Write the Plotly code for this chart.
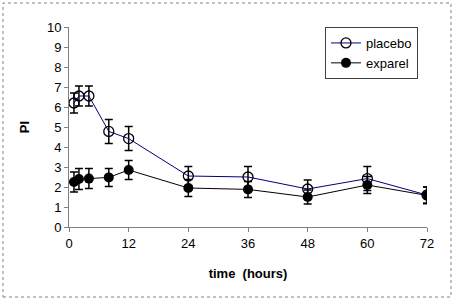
import plotly.graph_objects as go

time_h = [1, 2, 4, 8, 12, 24, 36, 48, 60, 72]
placebo = [6.2, 6.55, 6.55, 4.78, 4.42, 2.55, 2.5, 1.9, 2.42, 1.6]
placebo_err = [0.5, 0.5, 0.5, 0.6, 0.6, 0.47, 0.52, 0.45, 0.6, 0.4]
exparel = [2.25, 2.4, 2.42, 2.48, 2.85, 1.95, 1.88, 1.5, 2.1, 1.58]
exparel_err = [0.5, 0.52, 0.5, 0.45, 0.48, 0.42, 0.4, 0.35, 0.42, 0.42]
x_ticks = [0, 12, 24, 36, 48, 60, 72]
y_ticks = list(range(0, 11))

fig = go.Figure()
fig.add_trace(go.Scatter(
    x=time_h, y=placebo, name="placebo", mode="lines+markers",
    line=dict(color="#000080", width=1),
    marker=dict(symbol="circle-open", size=10, color="black", line=dict(width=1.3, color="black")),
    error_y=dict(type="data", array=placebo_err, visible=True, color="black", thickness=1.5, width=4),
))
fig.add_trace(go.Scatter(
    x=time_h, y=exparel, name="exparel", mode="lines+markers",
    line=dict(color="black", width=1),
    marker=dict(symbol="circle", size=10, color="black"),
    error_y=dict(type="data", array=exparel_err, visible=True, color="black", thickness=1.5, width=4),
))

fig.update_layout(
    width=454, height=303,
    margin=dict(l=69, r=27, t=27, b=76),
    paper_bgcolor="white", plot_bgcolor="white",
    font=dict(family="Liberation Sans, Arial", size=13, color="black"),
    showlegend=True,
    legend=dict(x=0.715, y=1, xanchor="left", yanchor="top",
                bordercolor="#404040", borderwidth=1, bgcolor="white",
                font=dict(size=13), itemwidth=30, tracegroupgap=2),
    xaxis=dict(range=[0, 72], tickvals=x_ticks, ticktext=[str(v) for v in x_ticks],
               showgrid=False, zeroline=False, showline=True, linecolor="#808080", linewidth=1,
               ticks="outside", ticklen=4, tickcolor="#808080",
               title=dict(text="<b>time  (hours)</b>", font=dict(size=13), standoff=19)),
    yaxis=dict(range=[0, 10], tickvals=y_ticks, ticktext=[str(v) for v in y_ticks],
               showgrid=False, zeroline=False, showline=True, linecolor="#808080", linewidth=1,
               ticks="outside", ticklen=4, tickcolor="#808080",
               title=dict(text="<b>PI</b>", font=dict(size=13), standoff=14)),
    shapes=[dict(type="rect", xref="paper", yref="paper",
                 x0=-0.1844, x1=1.067, y0=-0.35, y1=1.12,
                 line=dict(color="#808080", width=1, dash="dot"))],
)

fig.write_html("out.html", config={"displayModeBar": False},
               post_script="document.body.style.margin='0px';")
